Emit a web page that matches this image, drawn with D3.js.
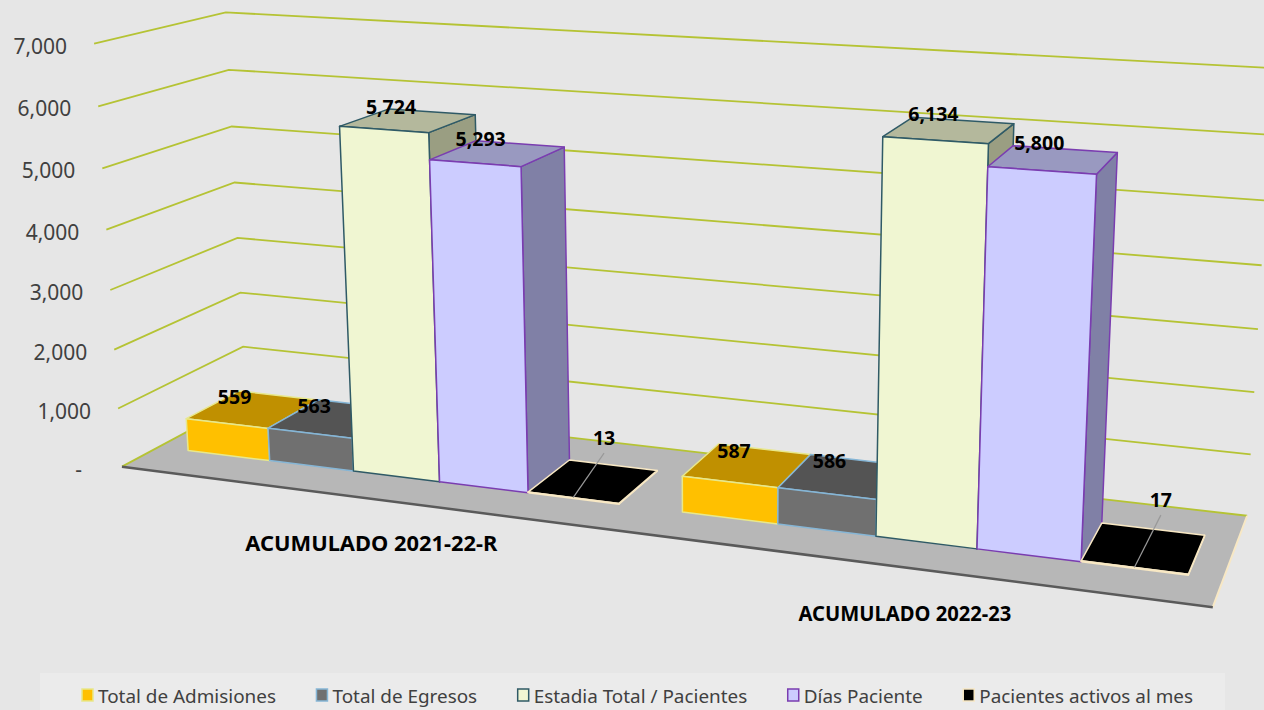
<!DOCTYPE html>
<html>
<head>
<meta charset="utf-8">
<script src="https://cdnjs.cloudflare.com/ajax/libs/d3/7.8.5/d3.min.js"></script>
<style>
    html, body { margin: 0; padding: 0; background: #e6e6e6; overflow: hidden; }
    text { font-family: "Noto Sans", sans-serif; }
</style>
</head>
<body>
<div id="my_dataviz"></div>
<script>
// Chart values
const categories = ["ACUMULADO 2021-22-R", "ACUMULADO 2022-23"];
const seriesNames = ["Total de Admisiones", "Total de Egresos", "Estadia Total / Pacientes", "Días Paciente", "Pacientes activos al mes"];
const cycle2021 = [559, 563, 5724, 5293, 13];
const cycle2022 = [587, 586, 6134, 5800, 17];
const valueTicks = [0, 1000, 2000, 3000, 4000, 5000, 6000, 7000];

const width = 1264, height = 710;

// Face colours per series
const frontColors = ["#ffc000", "#707070", "#f0f6d2", "#ccccff", "#000000"];
const topColors = ["#c09000", "#545454", "#b4b89c", "#9999c0", "#000000"];
const sideColors = ["#c09000", "#545454", "#9a9e82", "#8080a6", "#000000"];
const edgeColors = ["#e8e88c", "#86b6d6", "#2f5a66", "#7a3db0", "#f8e8c4"];

// Where the corners of the 3d box land on the page: [u, w, v] -> [x, y]
// u runs along the categories, w goes into the depth, v is the value / 7000
const anchors = [
    [[0, 0, 0], [122, 466]],
    [[1, 0, 0], [1213, 607]],
    [[1, 1, 0], [1247, 516]],
    [[0, 1, 0], [246, 400]],
    [[0, 0, 1], [94, 44]],
    [[0, 1, 1], [226, 12]],
    [[1, 1, 1], [1273, 68]],
    [[0, 0, 1 / 7], [118, 409]],
    [[0, 1, 1 / 7], [243, 347]]
];

// Least squares fit of the projective matrix
function fitProjection(points) {
    const A = [], b = [];
    points.forEach(([[u, w, v], [x, y]]) => {
        A.push([u, w, v, 1, 0, 0, 0, 0, -x * u, -x * w, -x * v]); b.push(x);
        A.push([0, 0, 0, 0, u, w, v, 1, -y * u, -y * w, -y * v]); b.push(y);
    });
    const n = 11;
    const M = d3.range(n).map(i => d3.range(n + 1).map(j =>
        j < n ? d3.sum(A, r => r[i] * r[j]) : d3.sum(A, (r, k) => r[i] * b[k])));
    for (let c = 0; c < n; c++) {
        let p = c;
        for (let r = c + 1; r < n; r++) if (Math.abs(M[r][c]) > Math.abs(M[p][c])) p = r;
        [M[c], M[p]] = [M[p], M[c]];
        for (let r = 0; r < n; r++) {
            if (r === c) continue;
            const f = M[r][c] / M[c][c];
            for (let j = c; j <= n; j++) M[r][j] -= f * M[c][j];
        }
    }
    return M.map((r, i) => r[n] / r[i]);
}
const H = fitProjection(anchors);

// Scales
const y = d3.scaleLinear().domain([0, 7000]).range([0, 1]);
const x0 = d3.scaleBand().domain(categories).range([0, 1]);
const x1 = d3.scaleBand().domain(seriesNames).range([0.032, x0.bandwidth() - 0.028]);
const wFront = 0.28, wBack = 0.71;

// Model position to page position
function project(u, w, value) {
    const v = y(value);
    const d = H[8] * u + H[9] * w + H[10] * v + 1;
    return [(H[0] * u + H[1] * w + H[2] * v + H[3]) / d,
            (H[4] * u + H[5] * w + H[6] * v + H[7]) / d];
}

const svg = d3.select("#my_dataviz").append("svg")
    .attr("width", width)
    .attr("height", height)
    .style("display", "block");

svg.append("rect").attr("width", width).attr("height", height).attr("fill", "#e6e6e6");

const line = d3.line();
const gridColor = "#b5c334";

// Gridlines on the side and back walls
svg.append("g").selectAll("path")
    .data(valueTicks.slice(1))
    .enter()
    .append("path")
    .attr("d", t => line([project(0, 0, t), project(0, 1, t), project(1, 1, t)]))
    .attr("fill", "none")
    .attr("stroke", gridColor)
    .attr("stroke-width", 1.8);

// Tick labels
svg.append("g").selectAll("text")
    .data(valueTicks)
    .enter()
    .append("text")
    .attr("x", t => project(0, 0, t)[0] - (t === 0 ? 40 : 27))
    .attr("y", t => project(0, 0, t)[1] + 10)
    .attr("text-anchor", "end")
    .attr("font-size", 21)
    .attr("fill", "#404040")
    .text(t => t === 0 ? "-" : d3.format(",")(t));

// Floor
svg.append("path")
    .attr("d", line([project(0, 0, 0), project(1, 0, 0), project(1, 1, 0), project(0, 1, 0)]) + "Z")
    .attr("fill", "#b7b7b7");
svg.append("path")
    .attr("d", line([project(0, 0, 0), project(0, 1, 0), project(1, 1, 0)]))
    .attr("fill", "none").attr("stroke", gridColor).attr("stroke-width", 1.8);
svg.append("path")
    .attr("d", line([project(1, 1, 0), project(1, 0, 0)]))
    .attr("fill", "none").attr("stroke", "#f8e8c4").attr("stroke-width", 2);
svg.append("path")
    .attr("d", line([project(0, 0, 0), project(1, 0, 0)]))
    .attr("fill", "none").attr("stroke", "#5a5a5a").attr("stroke-width", 2.5);

// Bars, back to front from left to right
const rows = [cycle2021, cycle2022];
const barsG = svg.append("g");
categories.forEach((cat, c) => {
    seriesNames.forEach((name, s) => {
        const value = rows[c][s];
        const u0 = x0(cat) + x1(name), u1 = u0 + x1.bandwidth();
        const faces = [
            { pts: [[u1, wFront, 0], [u1, wBack, 0], [u1, wBack, value], [u1, wFront, value]], fill: sideColors[s] },
            { pts: [[u0, wFront, value], [u1, wFront, value], [u1, wBack, value], [u0, wBack, value]], fill: topColors[s] },
            { pts: [[u0, wFront, 0], [u1, wFront, 0], [u1, wFront, value], [u0, wFront, value]], fill: frontColors[s] }
        ];
        barsG.append("g").selectAll("path")
            .data(faces)
            .enter()
            .append("path")
            .attr("d", f => line(f.pts.map(p => project(p[0], p[1], p[2]))) + "Z")
            .attr("fill", f => f.fill)
            .attr("stroke", edgeColors[s])
            .attr("stroke-width", 1.5)
            .attr("stroke-linejoin", "round");
    });
});

// Value labels, the last series has a leader line
const leaderNudge = { 4: [[-9, -26], [8, -28]] };
const labelShift = [[0, -3, 0, -1, 0], [-1, -2, -6, -6, 0]];
const labelG = svg.append("g");
categories.forEach((cat, c) => {
    seriesNames.forEach((name, s) => {
        const value = rows[c][s];
        const uc = x0(cat) + x1(name) + x1.bandwidth() / 2;
        const back = project(uc, wBack, value * 1.02);
        const foot = project(uc, wFront, value);
        let lx = foot[0] + (back[0] - foot[0]) * 0.15 + labelShift[c][s], ly = back[1] + 3;
        if (leaderNudge[s]) {
            lx = back[0] + leaderNudge[s][c][0];
            ly = back[1] + leaderNudge[s][c][1];
            labelG.append("line")
                .attr("x1", foot[0]).attr("y1", foot[1])
                .attr("x2", lx).attr("y2", ly + 14)
                .attr("stroke", "#999999").attr("stroke-width", 1.2);
        }
        labelG.append("text")
            .attr("x", lx)
            .attr("y", ly + 6)
            .attr("text-anchor", "middle")
            .attr("font-size", 19.5)
            .attr("font-weight", 700)
            .attr("fill", "#000000")
            .text(d3.format(",")(value));
    });
});

// Category labels
const categoryDx = [9, 0], categoryLength = [252, 213];
svg.append("g").selectAll("text")
    .data(categories)
    .enter()
    .append("text")
    .attr("x", (d, i) => project(x0(d) + x0.bandwidth() / 2, 0, 0)[0] + categoryDx[i])
    .attr("y", d => project(x0(d) + x0.bandwidth() / 2, 0, 0)[1] + 53)
    .attr("text-anchor", "middle")
    .attr("font-size", 20.5)
    .attr("font-weight", 700)
    .attr("fill", "#000000")
    .attr("textLength", (d, i) => categoryLength[i])
    .attr("lengthAdjust", "spacingAndGlyphs")
    .text(d => d);

// Legend
svg.append("rect")
    .attr("x", 40).attr("y", 673)
    .attr("width", 1185).attr("height", 37)
    .attr("fill", "#ebebeb");

let legendX = 81;
const legend = svg.append("g");
seriesNames.forEach((name, s) => {
    legend.append("rect")
        .attr("x", legendX + 1).attr("y", 689)
        .attr("width", 11).attr("height", 12)
        .attr("fill", frontColors[s])
        .attr("stroke", edgeColors[s])
        .attr("stroke-width", 1.5);
    const label = legend.append("text")
        .attr("x", legendX + 17)
        .attr("y", 703)
        .attr("font-size", 18.9)
        .attr("fill", "#404040")
        .text(name);
    legendX += 17 + label.node().getComputedTextLength() + 39.5;
});
</script>
</body>
</html>
